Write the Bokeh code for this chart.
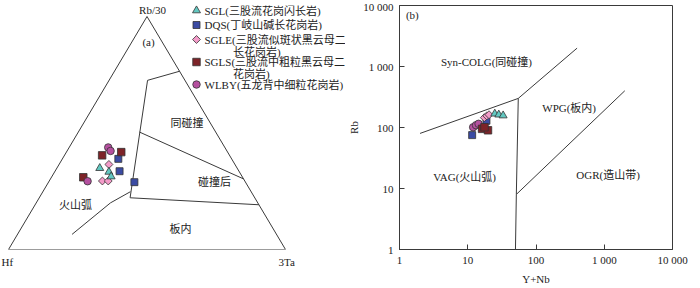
import numpy as np
from bokeh.plotting import figure
from bokeh.layouts import row
from bokeh.models import Range1d, Label, FixedTicker
from bokeh.embed import file_html
from bokeh.resources import INLINE

# ---------------- data ----------------
# (a) Hf - Rb/30 - 3Ta ternary, percent
sgl_hf = [49.6, 47.1, 47.3]
sgl_rb = [34.9, 33.3, 31.3]
sgl_ta = [15.5, 19.6, 21.4]

dqs_hf = [40.9, 43.1, 40.1]
dqs_rb = [38.9, 33.6, 28.9]
dqs_ta = [20.2, 23.3, 31.0]

sgle_hf = [45.5, 51.4, 49.3]
sgle_rb = [36.5, 29.4, 29.4]
sgle_ta = [18.0, 19.2, 21.3]

sgls_hf = [46.0, 38.4, 57.5]
sgls_rb = [40.4, 41.8, 31.0]
sgls_ta = [13.6, 19.8, 11.5]

wlby_hf = [42.1, 42.0, 56.8]
wlby_rb = [43.8, 42.3, 29.3]
wlby_ta = [14.1, 15.7, 13.9]

# field boundaries of (a): (Rb/30, 3Ta) percent
bnd_a_rb = [76.5, 72.6, 22.2, 19.2]
bnd_a_ta = [23.5, 13.9, 32.8, 80.8]
bnd_b_rb = [50.4, 30.3]
bnd_b_ta = [22.1, 69.7]
bnd_c_rb = [24.8, 20.0, 6.5]
bnd_c_ta = [31.6, 26.8, 19.7]

# corner labels of (a)
corner_labels = ["Hf", "3Ta"]

# (b) Rb vs Y+Nb (ppm)
sgl_ynb = [24.9, 28.5, 33.0]
sgl_rbp = [168, 162, 157]
dqs_ynb = [18.8, 11.6, 16.5]
dqs_rbp = [129, 75, 100]
sgle_ynb = [17.5, 19.0, 20.5]
sgle_rbp = [145, 155, 162]
sgls_ynb = [16.2, 19.8, 17.6]
sgls_rbp = [95, 90, 101]
wlby_ynb = [12.0, 13.2, 14.4]
wlby_rbp = [101, 109, 115]

# Pearce (1984) boundaries
b1_x = [2, 55, 400]
b1_y = [80, 300, 2000]
b2_x = [55, 51.5, 50]
b2_y = [300, 8, 1]
b3_x = [51.5, 2000]
b3_y = [8, 400]

x_ticks = [1, 10, 100, 1000, 10000]
tick_labels = ["1", "10", "100", "1 000", "10 000"]

legend_labels = [
    ["SGL(三股流花岗闪长岩)"],
    ["DQS(丁岐山碱长花岗岩)"],
    ["SGLE(三股流似斑状黑云母二", "长花岗岩)"],
    ["SGLS(三股流中粗粒黑云母二", "花岗岩)"],
    ["WLBY(五龙背中细粒花岗岩)"],
]

# ---------------- styles ----------------
FONT = "Liberation Serif, Noto Sans CJK SC"
TXT = "#222222"
LINE = "#3a3a3a"
OUT = "#333333"
styles = {
    "SGL": dict(marker="triangle", color="#62c8c1", size=8, angle=0),
    "DQS": dict(marker="square", color="#3b4ba3", size=7, angle=0),
    "SGLE": dict(marker="square", color="#f49bc9", size=5.6, angle=np.pi / 4),
    "SGLS": dict(marker="square", color="#7d2328", size=7.5, angle=0),
    "WLBY": dict(marker="circle", color="#b5509f", size=7.5, angle=0),
}


def tern(hf, rb, ta):
    hf, rb, ta = map(np.asarray, (hf, rb, ta))
    s = hf + rb + ta
    return list((ta + rb / 2) / s), list(rb / s)


def tern2(rb, ta):
    rb = np.asarray(rb) / 100.0
    ta = np.asarray(ta) / 100.0
    return list(ta + rb / 2), list(rb)


# ---------------- layout geometry ----------------
H = 288
WA, WB = 345, 355
TOP, BOT = 5, 39          # frame borders (shared by both panels)
RB_LEFT, RB_RIGHT = 53, 28

# (a) ternary: triangle pixel geometry
L_X0, L_W, L_Y0, L_H = 8, 277, 249, 233


def lpx(px):
    return (px - L_X0) / L_W


def lpy(py):
    return (L_Y0 - py) / L_H


pa = figure(width=WA, height=H, output_backend="svg", toolbar_location=None,
            x_range=Range1d(lpx(0), lpx(WA)), y_range=Range1d(lpy(H - BOT), lpy(TOP)),
            x_axis_location="below", y_axis_location=None,
            min_border_left=0, min_border_right=0, min_border_top=TOP, min_border_bottom=BOT,
            outline_line_color=None, background_fill_color="white")
pa.grid.visible = False
ax = pa.xaxis[0]
corner_ticks = [-0.004, 1.004]
ax.ticker = FixedTicker(ticks=corner_ticks)
ax.major_label_overrides = {t: s for t, s in zip(corner_ticks, corner_labels)}
ax.axis_line_color = None
ax.major_tick_line_color = None
ax.minor_tick_line_color = None
ax.major_tick_in = 0
ax.major_tick_out = 0
ax.major_label_standoff = 6
ax.major_label_text_font = FONT
ax.major_label_text_font_size = "11px"
ax.major_label_text_color = TXT

tx, ty = tern2([0, 0, 100, 0], [0, 100, 0, 0])
pa.line(tx, ty, line_color=LINE, line_width=1)
for rb, ta in [(bnd_a_rb, bnd_a_ta), (bnd_b_rb, bnd_b_ta), (bnd_c_rb, bnd_c_ta)]:
    bx, by = tern2(rb, ta)
    pa.line(bx, by, line_color=LINE, line_width=1)

groups_a = [("DQS", dqs_hf, dqs_rb, dqs_ta), ("SGLE", sgle_hf, sgle_rb, sgle_ta),
            ("SGL", sgl_hf, sgl_rb, sgl_ta), ("SGLS", sgls_hf, sgls_rb, sgls_ta),
            ("WLBY", wlby_hf, wlby_rb, wlby_ta)]
for name, hf, rb, ta in groups_a:
    st = styles[name]
    x, y = tern(hf, rb, ta)
    pa.scatter(x, y, marker=st["marker"], size=st["size"], angle=st["angle"],
               fill_color=st["color"], line_color=OUT, line_width=0.8)


def lab(p, x, y, text, align="center", size="11px", angle=0):
    p.add_layout(Label(x=x, y=y, text=text, text_align=align, text_baseline="middle",
                       text_font=FONT, text_font_size=size, text_color=TXT, angle=angle))


# region labels
lab(pa, lpx(148), lpy(41), "(a)")
lab(pa, lpx(186.5), lpy(122), "同碰撞")
lab(pa, lpx(214), lpy(181), "碰撞后")
lab(pa, lpx(75), lpy(204), "火山弧")
lab(pa, lpx(180), lpy(228), "板内")
lab(pa, lpx(152), lpy(9.5), "Rb/30")

# legend
leg_order = ["SGL", "DQS", "SGLE", "SGLS", "WLBY"]
leg_y = [10, 24.5, 39, 61.5, 84]
for name, yy, texts in zip(leg_order, leg_y, legend_labels):
    st = styles[name]
    pa.scatter([lpx(196)], [lpy(yy)], marker=st["marker"], size=st["size"], angle=st["angle"],
               fill_color=st["color"], line_color=OUT, line_width=0.8)
    lab(pa, lpx(204), lpy(yy), texts[0], align="left")
    if len(texts) > 1:
        lab(pa, lpx(232.5), lpy(yy + 12), texts[1], align="left")

# ---------------- (b) Rb vs Y+Nb ----------------
pb = figure(width=WB, height=H, output_backend="svg", toolbar_location=None,
            x_axis_type="log", y_axis_type="log",
            x_range=Range1d(1, 10000), y_range=Range1d(1, 10000),
            min_border_left=RB_LEFT, min_border_right=RB_RIGHT,
            min_border_top=TOP, min_border_bottom=BOT,
            outline_line_color=LINE, outline_line_width=1, background_fill_color="white")
pb.grid.visible = False
for ax in (pb.xaxis[0], pb.yaxis[0]):
    ax.ticker = FixedTicker(ticks=x_ticks)
    ax.major_label_overrides = {t: s for t, s in zip(x_ticks, tick_labels)}
    ax.major_tick_in = 5
    ax.major_tick_out = 0
    ax.minor_tick_in = 0
    ax.minor_tick_out = 0
    ax.axis_line_color = LINE
    ax.major_tick_line_color = LINE
    ax.major_label_text_font = FONT
    ax.major_label_text_font_size = "11px"
    ax.major_label_text_color = TXT
    ax.axis_label_text_font = FONT
    ax.axis_label_text_font_size = "11px"
    ax.axis_label_text_font_style = "normal"
    ax.axis_label_text_color = TXT
pb.xaxis[0].major_label_standoff = 4
pb.yaxis[0].major_label_standoff = 6
pb.xaxis[0].axis_label = "Y+Nb"
pb.xaxis[0].axis_label_standoff = 4
pb.yaxis[0].axis_label = "Rb"
pb.yaxis[0].axis_label_standoff = 0

for bx, by in [(b1_x, b1_y), (b2_x, b2_y), (b3_x, b3_y)]:
    pb.line(bx, by, line_color=LINE, line_width=1)

groups_b = [("DQS", dqs_ynb, dqs_rbp), ("SGLE", sgle_ynb, sgle_rbp), ("SGL", sgl_ynb, sgl_rbp),
            ("WLBY", wlby_ynb, wlby_rbp), ("SGLS", sgls_ynb, sgls_rbp)]
for name, x, y in groups_b:
    st = styles[name]
    pb.scatter(x, y, marker=st["marker"], size=st["size"], angle=st["angle"],
               fill_color=st["color"], line_color=OUT, line_width=0.8)

lab(pb, 1.24, 6900, "(b)", align="left")
lab(pb, 18.8, 1175, "Syn-COLG(同碰撞)")
lab(pb, 306, 210, "WPG(板内)")
lab(pb, 9.0, 15.3, "VAG(火山弧)")
lab(pb, 1137, 16.5, "OGR(造山带)")

layout = row(pa, pb)
open("out.html", "w").write(file_html(layout, INLINE))
